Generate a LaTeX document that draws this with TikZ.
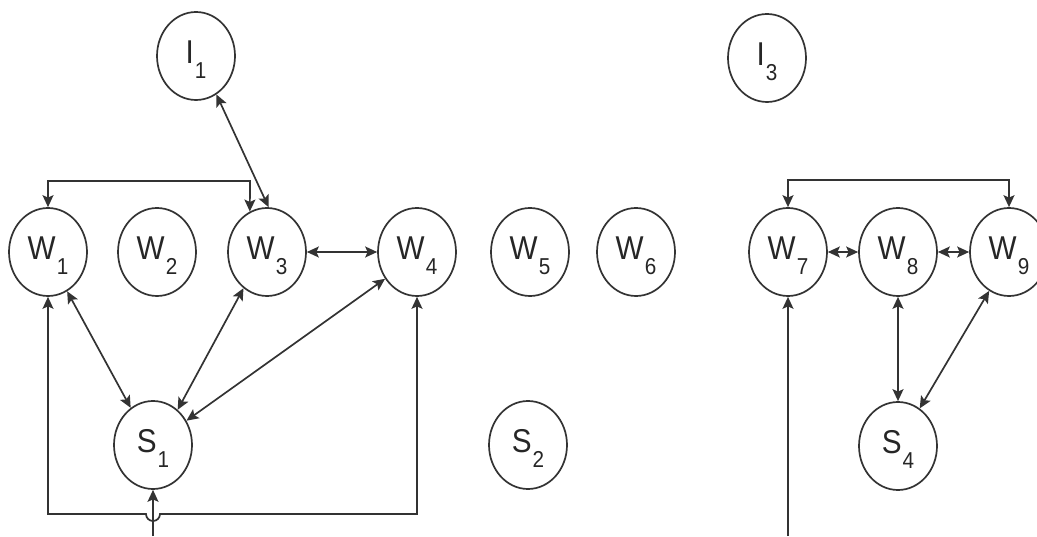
\documentclass[tikz,border=0pt]{standalone}
\usepackage{fontspec}
\newfontfamily\lblfont{Liberation Sans}[FakeStretch=0.9]
\usetikzlibrary{shapes.geometric,arrows.meta}
\newcommand{\lbl}[2]{#1\hspace{1pt}\raisebox{-15pt}{\fontsize{23}{23}\selectfont #2}}

\begin{document}
\begin{tikzpicture}[x=1pt,y=1pt,>={Stealth[length=12pt,width=11pt,inset=2.5pt]}]
	\tikzstyle{unit}=[ellipse,draw=black!80,line width=1.7pt,minimum width=78pt,minimum height=88pt,inner sep=0pt,text height=31pt,text depth=16pt,font=\lblfont\fontsize{33}{38}\selectfont,text=black!85]
	\tikzstyle{edge}=[draw=black!80,line width=1.7pt]
	\clip (0,0) rectangle (1037,536);
	\begin{scope}
		\node [unit] (I1) at (196,480) {\lbl{I}{1}};
		\node [unit] (I3) at (767,478) {\lbl{I}{3}};

		\node [unit] (W1) at (48,284) {\lbl{W}{1}};
		\node [unit] (W2) at (157,284) {\lbl{W}{2}};
		\node [unit] (W3) at (267,284) {\lbl{W}{3}};
		\node [unit] (W4) at (417,284) {\lbl{W}{4}};
		\node [unit] (W5) at (530,284) {\lbl{W}{5}};
		\node [unit] (W6) at (636,284) {\lbl{W}{6}};
		\node [unit] (W7) at (788,284) {\lbl{W}{7}};
		\node [unit] (W8) at (898,284) {\lbl{W}{8}};
		\node [unit] (W9) at (1009,284) {\lbl{W}{9}};

		\node [unit] (S1) at (153,91) {\lbl{S}{1}};
		\node [unit] (S2) at (528,91) {\lbl{S}{2}};
		\node [unit] (S4) at (898,90) {\lbl{S}{4}};

		\coordinate (j13) at (250,355);
		\coordinate (h1) at (146,22);
		\coordinate (in1) at (153,0);
		\coordinate (in7) at (788,0);

		% left group
		\path[edge,<->] (W1.north) |- (j13) -- (W3.113);
		\path[edge,<->] (I1.-62) to (W3.88);
		\path[edge,<->] (W3.east) to (W4.west);
		\path[edge,<->] (W1.296) to (S1.121);
		\path[edge,<->] (W3.237) to (S1.55);
		\path[edge,<->] (W4.220) to (S1.36);
		\path[edge,<->] (W1.south) |- (h1) arc[start angle=180,end angle=360,radius=7] -| (W4.south);
		\path[edge,->] (in1) to (S1.south);

		% right group
		\path[edge,<->] (W7.north) -- ++(0,27) -| (W9.north);
		\path[edge,<->] (W7.east) to (W8.west);
		\path[edge,<->] (W8.east) to (W9.west);
		\path[edge,<->] (W8.south) to (S4.north);
		\path[edge,<->] (W9.243) to (S4.60);
		\path[edge,->] (in7) to (W7.south);
	\end{scope}
\end{tikzpicture}
\end{document}
